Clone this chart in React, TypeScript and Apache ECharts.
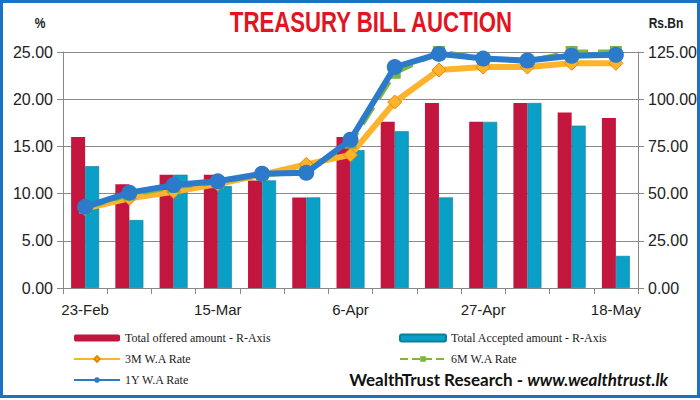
import React, { useEffect, useRef } from "react";
import * as echarts from "echarts";

const categories = ["23-Feb", "2-Mar", "9-Mar", "15-Mar", "22-Mar", "30-Mar", "6-Apr", "12-Apr", "20-Apr", "27-Apr", "4-May", "11-May", "18-May"];
const offered = [80, 55, 60, 60, 57, 48, 80, 88, 98, 88, 98, 93, 90];
const accepted = [64.5, 36, 60, 54, 57, 48, 73, 83, 48, 88, 98, 86, 17];
const rate3M = [8.4, 9.5, 10.2, 11.0, 12.0, 13.1, 14.1, 19.7, 23.1, 23.4, 23.4, 23.8, 23.8];
const rate6M = [8.5, 9.9, 10.7, 11.2, 12.0, 12.3, 15.4, 22.8, 25.0, 24.3, 24.0, 25.0, 25.0];
const rate1Y = [8.6, 10.1, 10.9, 11.3, 12.1, 12.2, 15.7, 23.4, 24.8, 24.3, 24.1, 24.6, 24.7];

const seriesNames = {
  offered: "Total offered amount - R-Axis",
  accepted: "Total Accepted amount - R-Axis",
  m3: "3M W.A Rate",
  m6: "6M W.A Rate",
  y1: "1Y W.A Rate",
};

export default function App() {
  const ref = useRef<HTMLDivElement>(null);
  useEffect(() => {
    if (!ref.current) return;
    const chart = echarts.init(ref.current, null, { renderer: "svg" });
    const axisFont = { fontFamily: "Liberation Sans", fontSize: 15, color: "#222" };
    const legendText = { fontFamily: "Liberation Serif", fontSize: 12, color: "#222" };
    chart.setOption({
      animation: false,
      backgroundColor: "#fff",
      grid: { left: 63, right: 62, top: 52, bottom: 112, containLabel: false },
      xAxis: {
        type: "category",
        data: categories,
        boundaryGap: true,
        axisLine: { lineStyle: { color: "#888", width: 1 } },
        axisTick: { show: true, interval: 0, length: 6, lineStyle: { color: "#888" } },
        axisLabel: { ...axisFont, interval: 2, margin: 14 },
      },
      yAxis: [
        {
          type: "value",
          min: 0,
          max: 25,
          interval: 5,
          position: "left",
          axisLine: { show: true, lineStyle: { color: "#888" } },
          axisTick: { show: true, length: 6, lineStyle: { color: "#888" } },
          axisLabel: { ...axisFont, fontSize: 16, margin: 10, formatter: (v: number) => v.toFixed(2) },
          splitLine: { show: true, lineStyle: { color: "#8a8a8a", width: 1.2 } },
        },
        {
          type: "value",
          min: 0,
          max: 125,
          interval: 25,
          position: "right",
          axisLine: { show: true, lineStyle: { color: "#888" } },
          axisTick: { show: true, length: 6, lineStyle: { color: "#888" } },
          axisLabel: { ...axisFont, fontSize: 16, margin: 10, formatter: (v: number) => v.toFixed(2) },
          splitLine: { show: false },
        },
      ],
      legend: [
        {
          data: [seriesNames.offered, seriesNames.m3, seriesNames.y1],
          orient: "vertical",
          left: 68,
          top: 327,
          itemWidth: 46,
          itemHeight: 7,
          itemGap: 9,
          textStyle: legendText,
          selectedMode: false,
        },
        {
          data: [seriesNames.accepted, seriesNames.m6],
          orient: "vertical",
          left: 394,
          top: 327,
          itemWidth: 46,
          itemHeight: 7,
          itemGap: 9,
          textStyle: legendText,
          selectedMode: false,
        },
      ],
      graphic: [
        {
          type: "rect",
          shape: { x: 1.5, y: 1.5, width: 697, height: 395 },
          style: { fill: "none", stroke: "#1b72c4", lineWidth: 3 },
          silent: true,
        },
        {
          type: "text",
          x: 371,
          y: 22,
          scaleX: 0.74,
          style: {
            text: "TREASURY BILL AUCTION",
            fontFamily: "Liberation Sans",
            fontWeight: "bold",
            fontSize: 30,
            fill: "#e3141f",
            align: "center",
            verticalAlign: "middle",
          },
        },
        {
          type: "text",
          x: 40,
          y: 23,
          scaleX: 0.8,
          style: {
            text: "%",
            fontFamily: "Liberation Sans",
            fontWeight: "bold",
            fontSize: 15,
            fill: "#222",
            align: "center",
            verticalAlign: "middle",
          },
        },
        {
          type: "text",
          x: 666,
          y: 23,
          scaleX: 0.8,
          style: {
            text: "Rs.Bn",
            fontFamily: "Liberation Sans",
            fontWeight: "bold",
            fontSize: 15,
            fill: "#222",
            align: "center",
            verticalAlign: "middle",
          },
        },
        {
          type: "text",
          x: 668,
          y: 379,
          style: {
            text: "{a|WealthTrust Research - }{b|www.wealthtrust.lk}",
            align: "right",
            verticalAlign: "middle",
            rich: {
              a: { fontFamily: "Lato", fontWeight: "bold", fontSize: 17, fill: "#111" },
              b: { fontFamily: "Lato", fontWeight: "bold", fontStyle: "italic", fontSize: 17, fill: "#111" },
            },
          },
        },
      ],
      series: [
        {
          name: seriesNames.offered,
          type: "bar",
          yAxisIndex: 1,
          data: offered,
          barWidth: 14,
          barGap: "0%",
          itemStyle: { color: "#c2163f" },
        },
        {
          name: seriesNames.accepted,
          type: "bar",
          yAxisIndex: 1,
          data: accepted,
          barWidth: 14,
          barGap: "0%",
          itemStyle: { color: "#0a9fc6", borderColor: "#0b7f9c", borderWidth: 0.6 },
        },
        {
          name: seriesNames.m3,
          type: "line",
          yAxisIndex: 0,
          data: rate3M,
          clip: false,
          symbol: "diamond",
          symbolSize: 14,
          lineStyle: { color: "#fdb32b", width: 6 },
          itemStyle: { color: "#fdb32b", borderColor: "#e8830e", borderWidth: 1 },
          z: 3,
        },
        {
          name: seriesNames.m6,
          type: "line",
          yAxisIndex: 0,
          data: rate6M,
          clip: false,
          symbol: "rect",
          symbolSize: 12,
          lineStyle: { color: "#7db545", width: 5, type: "dashed" },
          itemStyle: { color: "#7db545" },
          z: 4,
        },
        {
          name: seriesNames.y1,
          type: "line",
          yAxisIndex: 0,
          data: rate1Y,
          clip: false,
          symbol: "circle",
          symbolSize: 16,
          lineStyle: { color: "#2b7bca", width: 6 },
          itemStyle: { color: "#2b7bca" },
          z: 5,
        },
      ],
    });
    return () => chart.dispose();
  }, []);
  return <div ref={ref} style={{ position: "fixed", left: 0, top: 0, width: 700, height: 400 }} />;
}
